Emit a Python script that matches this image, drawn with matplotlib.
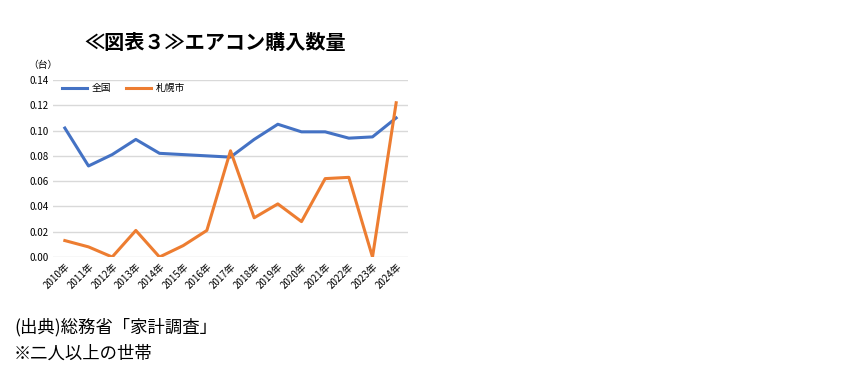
import numpy as np
import matplotlib
matplotlib.use("Agg")
import matplotlib.pyplot as plt

plt.rcParams['font.family'] = ['Noto Sans CJK JP', 'DejaVu Sans']

years = [f"{y}年" for y in range(2010, 2025)]
zenkoku = [0.102, 0.072, 0.081, 0.093, 0.082, 0.081, 0.080, 0.079,
           0.093, 0.105, 0.099, 0.099, 0.094, 0.095, 0.110]
sapporo = [0.013, 0.008, 0.000, 0.021, 0.000, 0.009, 0.021, 0.084,
           0.031, 0.042, 0.028, 0.062, 0.063, 0.000, 0.122]

fig = plt.figure(figsize=(8.58, 3.70), dpi=100)
ax = fig.add_axes([53 / 858, 1 - 257 / 370, (408 - 53) / 858, (257 - 80) / 370])

x = np.arange(len(years))
ax.plot(x, zenkoku, color="#4472C4", lw=2.2, label="全国")
ax.plot(x, sapporo, color="#ED7D31", lw=2.2, label="札幌市")

ax.set_xlim(-0.5, len(years) - 0.5)
ax.set_ylim(0, 0.14)
ax.set_yticks(np.arange(0, 0.141, 0.02))
ax.set_yticklabels([f"{v:.2f}" for v in np.arange(0, 0.141, 0.02)], fontsize=7)
ax.set_xticks(x)
ax.set_xticklabels(years, rotation=45, ha="right", rotation_mode="anchor", fontsize=7)
ax.tick_params(length=0, pad=3)
ax.grid(axis="y", color="#d9d9d9", lw=1)
ax.set_axisbelow(True)
for s in ax.spines.values():
    s.set_visible(False)

ax.legend(loc="upper left", bbox_to_anchor=(0.0, 1.03), ncol=2, frameon=False,
          fontsize=7, handlelength=2.6, columnspacing=1.5, handletextpad=0.5)

fig.text(28 / 858, 1 - 65 / 370, "（台）", fontsize=7, ha="left", va="center")
fig.text(215 / 858, 1 - 42 / 370, "≪図表３≫エアコン購入数量", fontsize=14.5,
         fontweight="bold", ha="center", va="center")
fig.text(14 / 858, 1 - 327 / 370, "(出典)総務省「家計調査」", fontsize=12.5,
         ha="left", va="center")
fig.text(14 / 858, 1 - 354 / 370, "※二人以上の世帯", fontsize=12.5,
         ha="left", va="center")

fig.savefig("out.png", dpi=100)
